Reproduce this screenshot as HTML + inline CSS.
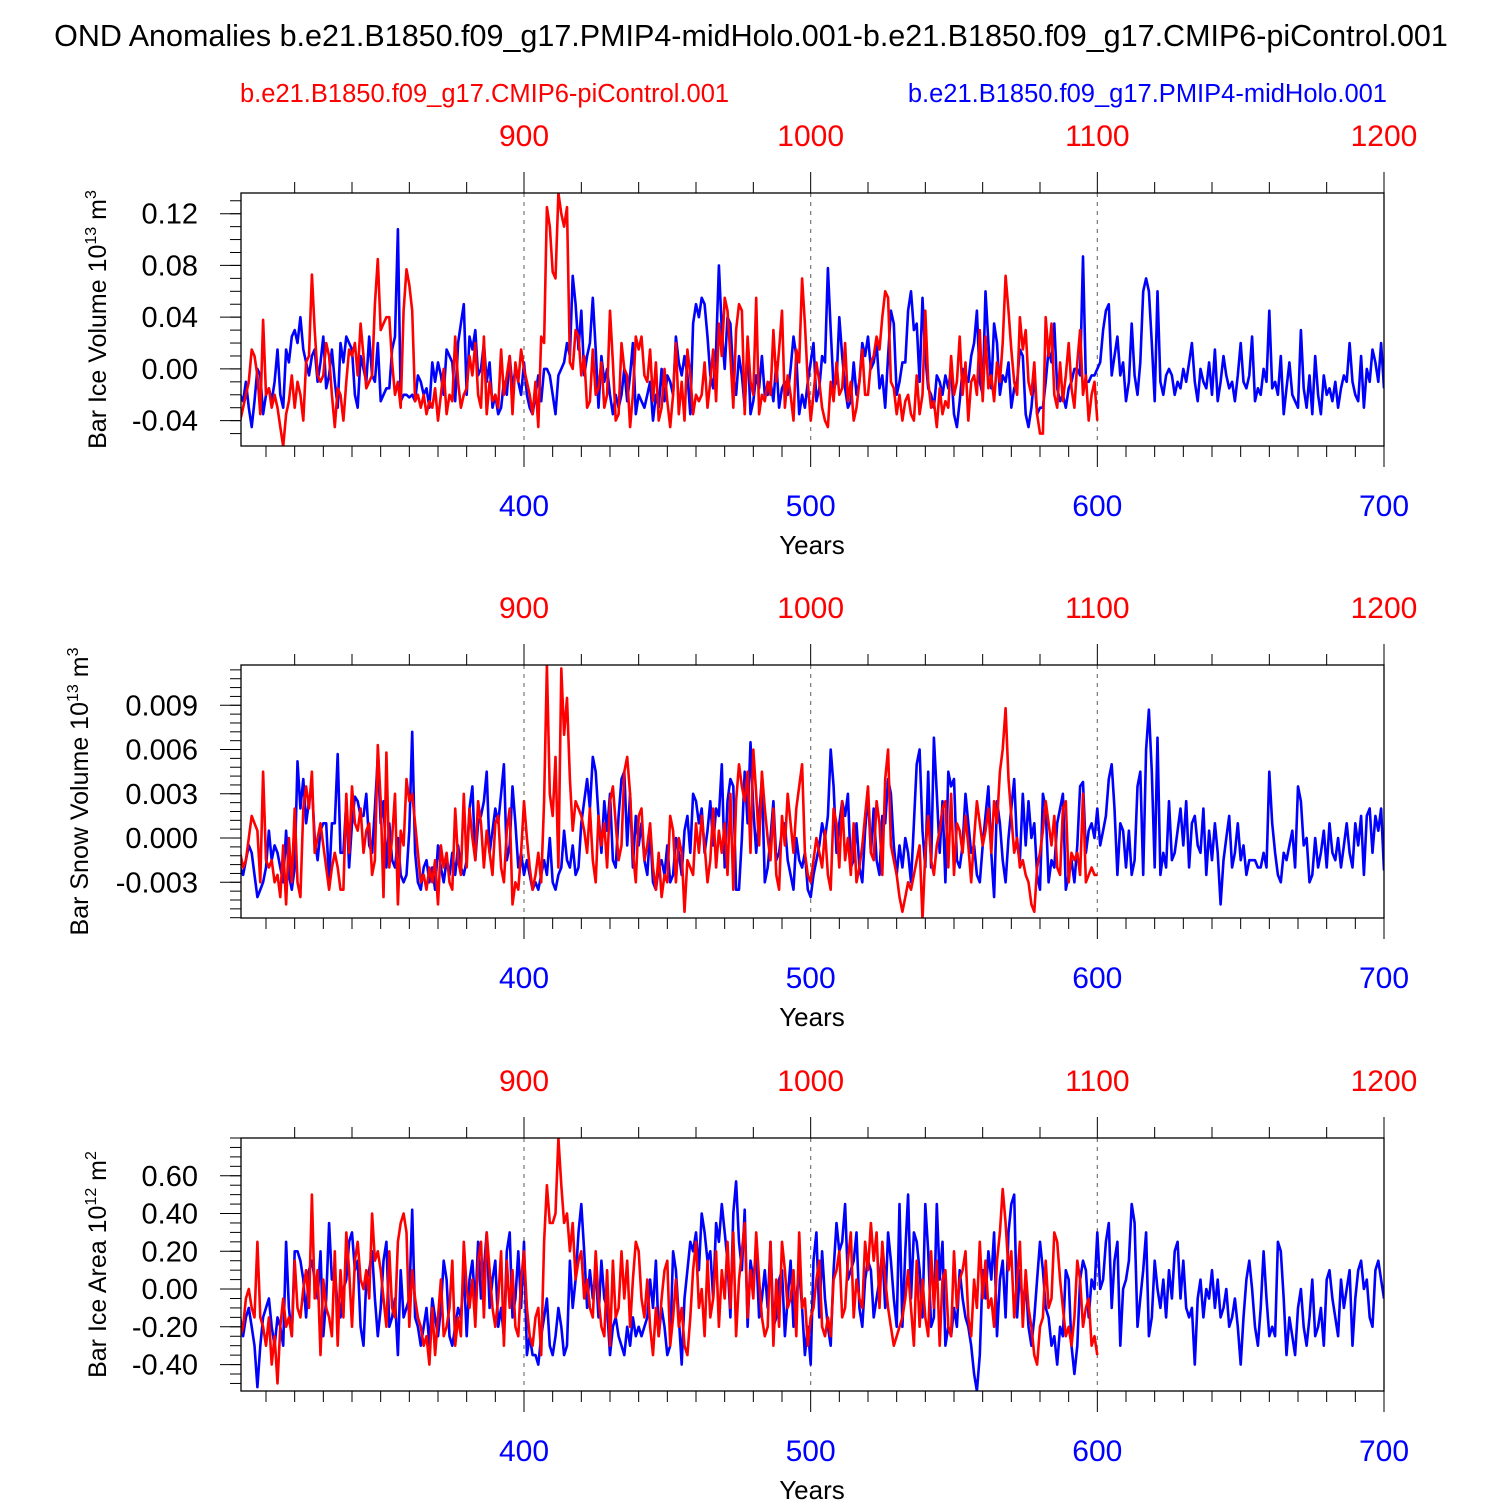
<!DOCTYPE html>
<html><head><meta charset="utf-8"><style>
body{margin:0;background:#fff;}
svg{display:block;font-family:"Liberation Sans",sans-serif;}
</style></head><body>
<svg id="chart" width="1500" height="1500" viewBox="0 0 1500 1500">
<text x="751" y="46" font-size="30.5" text-anchor="middle">OND Anomalies b.e21.B1850.f09_g17.PMIP4-midHolo.001-b.e21.B1850.f09_g17.CMIP6-piControl.001</text>
<text x="240" y="102" font-size="25.5" fill="#f00">b.e21.B1850.f09_g17.CMIP6-piControl.001</text>
<text x="1387" y="102" font-size="25.5" fill="#00f" text-anchor="end">b.e21.B1850.f09_g17.PMIP4-midHolo.001</text>
</svg>
<script>
// Panel 1: Bar Ice Volume (units 0.001 x 10^13 m^3)
const iceVolBlue=[-20,-25,-10,-30,-45,-25,0,-5,-35,-20,-15,-25,-10,15,-20,-30,15,5,25,30,
20,40,15,5,-5,10,15,-10,5,25,-15,-5,15,-10,-30,20,5,25,20,15,
-20,-30,10,0,-10,25,-5,-10,20,-25,-20,-15,-15,15,25,108,-25,-20,-20,-22,
-20,-25,-5,-10,-20,-15,-30,5,-10,5,-5,-20,15,10,5,-25,20,35,50,-20,
25,15,30,-5,0,20,-10,5,-30,-20,-35,-30,-10,-20,10,-15,0,-10,-20,5,
-20,-30,-35,-20,-5,-25,0,0,-5,-20,-35,-5,0,5,20,10,72,50,15,45,
-5,10,20,55,15,-30,10,-10,0,-20,-35,-20,-30,-20,0,-25,-5,20,-35,-20,
-25,-30,-20,-10,-40,-20,-30,0,-25,-5,-10,-20,25,5,-5,10,-5,-35,35,50,
40,55,50,25,-5,-15,15,80,30,0,40,35,-5,-20,10,-5,-30,20,-35,-25,
-5,-15,10,-20,-20,-10,-25,5,-30,-15,-10,-20,0,25,10,-35,-20,-30,-10,5,
20,-25,-15,10,5,78,30,-15,-10,40,10,-15,-30,-25,5,-20,-10,20,10,25,
0,5,20,-15,-5,-30,10,45,35,-20,-10,5,5,45,60,30,35,-10,55,10,
-15,-20,-30,-5,-10,-20,-5,-15,0,-35,-45,-25,0,-5,-10,10,20,45,-10,-20,
60,20,-15,35,20,-20,-5,-10,5,-30,-15,-10,15,10,-35,-45,-30,-5,-35,-30,
-30,-10,15,5,35,-15,-25,-20,-30,-15,-10,0,0,-5,87,-10,-10,-5,-5,0,
5,30,45,50,-5,10,25,-5,5,-25,-10,35,-5,-20,5,60,70,60,20,-25,
60,-10,-20,-5,0,-5,-20,-10,-15,0,-10,5,20,-10,-25,0,-10,-15,5,-20,
15,-25,-10,10,-5,-15,-10,-25,-5,20,-10,-15,-5,25,-25,-15,-20,0,-10,45,
-15,-10,-20,10,-35,-15,5,-20,-25,-30,30,-15,-30,-5,-35,10,-20,-35,-5,-20,
-15,-25,-10,-30,-15,-5,-10,20,-10,-20,-25,10,-30,0,-10,15,5,-10,20,-15];
const iceVolRed=[-40,-30,-20,-10,15,10,-5,-35,38,-20,-15,-30,-20,-30,-45,-60,-35,-25,-5,-30,
-10,-20,-40,5,10,73,30,-5,-10,-5,20,10,-20,-45,-15,-20,-40,-10,15,10,
20,-5,35,10,-15,-10,-5,50,85,30,35,40,40,5,-20,-10,-30,45,77,65,
45,-25,-20,-30,-20,-35,-25,-30,-15,-40,-20,0,-35,-20,-25,25,-10,-30,-20,-15,
10,-5,20,-20,-30,25,-35,-10,-25,-20,-30,15,-20,-5,10,-35,5,-10,15,0,
-10,-20,-35,-10,-45,25,20,125,110,75,70,136,120,110,125,5,0,30,25,-5,
10,-30,-25,15,-20,-15,5,-30,-20,45,5,-40,-35,20,0,-5,-45,-20,25,15,
25,-5,-10,15,-25,5,-40,-30,0,-25,-45,-20,20,-35,-10,-40,15,-5,-35,-20,
-25,-20,5,-30,-10,15,-25,35,10,55,45,10,-30,30,50,45,-35,25,-10,-20,
55,-35,-20,-25,-10,-20,30,-10,15,45,-30,-5,-20,-40,15,5,70,35,-10,-40,
-20,5,-10,-30,-40,-45,-10,-25,5,-20,-15,20,-25,-10,-40,-30,-10,15,-20,-20,
5,10,25,15,40,60,55,-10,-15,-35,-20,-40,-25,-20,-35,-40,-5,-35,-20,45,
-10,-30,-25,-45,-15,-35,-25,-30,10,-20,-10,25,-20,5,-40,-10,-5,-20,30,-25,
25,-15,-5,-25,5,-10,20,72,45,15,-10,-20,40,15,30,-10,-20,5,-35,-50,
-50,40,10,35,-20,-30,5,-25,-5,20,-15,-30,5,30,-20,-5,-40,-20,-10,-40];
// Panel 2: Bar Snow Volume (units 0.0001 x 10^13 m^3)
const snowBlue=[-20,-25,-15,-5,-10,-25,-40,-35,-30,-20,5,-15,-5,-10,-20,-30,5,-25,-35,-20,
52,20,40,10,25,35,0,-15,5,10,10,-30,10,10,57,-10,-10,25,-20,10,
28,25,15,15,30,-5,-10,20,55,10,25,-20,10,-15,-20,0,-25,-30,-25,5,
72,-10,-30,-35,-20,-15,-30,-20,-35,-5,-20,-30,-15,-25,-10,-25,-5,-20,-25,-15,
20,35,-15,10,15,25,45,-10,5,20,10,30,50,-15,-5,35,10,-20,-10,-25,
-15,-25,-35,-30,-35,-25,-15,-25,0,-30,-35,-25,-20,5,-15,-20,-5,-25,-20,10,
25,40,20,55,45,15,-10,25,5,30,-15,-20,15,40,45,-5,30,-20,15,-5,
10,-15,-25,5,-30,-35,-20,-15,-25,-5,-30,-25,0,-10,-25,5,15,-10,30,25,
10,20,-10,5,25,-5,20,15,50,-20,25,40,35,-35,-35,0,45,10,65,20,
-10,15,40,-30,-20,0,25,-15,-10,5,10,-15,-25,-35,0,-15,-20,-10,-35,-40,
-25,-15,-5,10,0,15,60,35,-10,10,25,15,30,-20,-15,10,-20,-30,5,30,
-10,20,-15,-25,15,10,40,30,-5,-25,-5,-20,0,-10,-30,10,50,60,5,-20,
45,-20,68,30,-10,25,-30,45,35,40,-15,-20,-5,30,10,-10,-5,-25,-30,-5,
15,35,-10,-40,25,10,-15,-30,0,20,40,-5,-15,30,-5,25,0,10,-25,-35,
30,20,-30,-15,-20,10,20,30,-35,-25,-15,-30,-5,35,38,-10,5,10,0,20,
-5,5,15,40,50,20,-25,10,5,-20,5,-25,-15,35,45,-25,60,87,45,-20,
68,-25,-10,-20,25,-15,-10,5,20,-5,25,-20,10,15,-5,-10,20,-25,5,-15,
10,-10,-45,-15,0,15,-20,-10,10,-15,-5,-25,-15,-15,-15,-20,-20,-10,-20,45,
10,-10,-25,-30,-10,-15,-5,5,-20,35,25,-5,0,-30,-25,0,-20,-10,5,-20,
10,-10,-15,0,-20,-5,10,-10,-20,10,-5,15,-25,15,20,-10,15,5,20,-22];
const snowRed=[-10,-20,-15,0,15,10,5,-30,45,-15,-20,-15,-30,-25,-40,-5,-45,0,-30,20,
-30,-40,20,35,20,45,-10,0,10,-5,-20,-35,-20,-10,-20,-35,-35,30,-10,35,
10,5,20,-10,5,10,-25,-15,63,25,-40,58,-20,0,30,-45,5,-5,40,25,
30,10,-10,-30,-25,-35,-20,-30,-15,-45,-5,-20,-10,-30,-35,20,-15,-25,30,-20,
20,0,-15,25,10,-20,5,-10,-25,10,15,-20,-30,5,20,-45,-30,-35,-10,25,
0,-20,-35,-25,-10,-30,25,117,30,15,55,-20,115,70,95,40,5,25,20,15,
5,-10,20,-15,-30,15,-5,10,-20,25,35,10,-15,-5,45,55,30,-10,-30,15,
20,-15,-5,10,-20,-35,-10,-40,-25,-30,15,5,-30,0,-10,-50,-15,-20,-25,10,
-10,15,-5,-30,-15,20,-20,5,-10,10,-25,30,-35,25,50,35,25,45,-10,60,
30,-5,45,20,0,-15,20,-25,-35,15,-5,30,10,-10,20,35,50,-10,-25,-30,
-15,0,-10,-20,5,-25,-35,20,10,-20,25,-15,0,-25,10,-30,-20,-5,15,35,
-10,-15,25,10,-25,40,60,-5,-15,-25,-40,-50,-40,-30,-35,-25,-15,-5,-55,-10,
15,-15,-25,-5,5,20,25,-20,30,-25,10,5,-10,15,-5,-30,0,25,10,-5,
5,20,-10,25,10,45,60,88,40,15,-10,0,-20,-15,-25,-30,-45,-50,-20,-10,
5,25,10,-5,15,-20,-25,20,25,-30,-10,-15,-10,-25,30,-30,-25,-20,-25,-25];
// Panel 3: Bar Ice Area (units 0.01 x 10^12 m^2)
const areaBlue=[-15,-25,-15,-10,-20,-30,-52,-30,-15,-10,-5,-20,-30,-15,-20,-30,25,-10,-25,20,
20,15,5,-15,10,15,5,-5,20,-25,-5,35,5,10,-10,-15,0,5,25,30,
10,15,-20,-30,5,10,20,-5,-25,-10,15,25,-20,-15,-5,-35,10,-15,-10,-5,
42,-15,-20,-30,-20,-10,-30,-5,-15,-25,-10,15,5,-25,-30,-20,-10,-15,10,-25,
5,15,-10,25,-5,10,30,-10,5,15,-20,-10,-25,20,30,-15,-5,20,-10,25,
-35,-25,-35,-35,-40,-25,-15,-5,-30,-35,-25,-10,-20,-35,-30,15,-10,5,30,45,
20,-10,10,-5,10,-15,15,-5,-10,-35,-20,-15,-25,-30,-35,-20,-30,-15,-25,-20,
-25,-20,-15,5,-10,15,-25,-10,-20,-35,-30,20,10,-15,-40,-5,10,25,20,30,
10,40,30,15,20,-5,35,25,45,30,15,-15,40,57,25,10,42,-20,15,5,
20,-15,-5,10,-10,25,-20,-15,5,10,-25,-5,15,-20,-5,10,-10,-35,-20,-40,
15,30,-15,20,-5,-20,-30,10,35,20,25,45,5,10,15,30,-10,-20,5,15,
10,-15,-5,5,20,-10,30,15,-5,-20,45,-20,20,50,-5,30,25,10,-15,45,
20,-20,-15,45,5,25,-30,-20,-25,-10,-20,10,-5,-15,-20,-30,-45,-54,-35,10,
-5,20,5,30,-25,5,15,-15,30,45,50,-15,10,-10,5,-20,-30,-15,5,25,
10,-10,-15,-30,-25,-40,-20,-25,10,5,-30,-45,-30,5,15,10,-15,5,0,30,
0,5,25,35,-10,15,25,-30,0,5,15,45,35,-20,-5,10,30,-25,-15,15,
0,-10,5,-15,10,-5,20,25,-5,15,-10,-15,-10,-40,-5,5,-15,0,-5,10,
-10,5,-15,-10,0,-20,-15,-5,-20,-40,-15,5,15,0,-20,-30,-10,20,-5,-25,
-20,-25,25,20,-5,-35,-15,-25,-35,-10,0,-20,-30,-15,5,-25,-20,-10,-30,5,
10,-5,-15,-25,5,-10,0,10,-30,-5,10,15,0,5,-15,-20,10,15,5,-5];
const areaRed=[-25,-20,-5,0,-10,-15,25,-15,-20,-30,-15,-40,-25,-50,-20,-5,-20,-15,-25,15,
-10,-15,0,10,-10,50,-5,10,-35,5,-10,-15,-25,20,-30,10,-15,30,10,-20,
15,25,5,0,10,-5,40,15,20,10,-5,-20,20,-10,-15,25,35,40,30,-20,
10,-5,-15,-20,-30,-25,-40,-10,-35,-15,5,-25,-20,-10,15,-30,-15,-25,25,0,
-10,5,-20,15,25,-15,30,10,-10,-20,-5,20,-30,15,-10,10,-20,-25,5,20,
-10,-25,-30,-15,-10,-35,25,55,35,35,40,80,55,35,40,20,35,5,15,20,
-5,5,-10,-15,20,-5,-20,-25,10,-30,15,-15,-10,20,-5,15,-20,5,25,20,
-5,-15,5,-20,-35,-10,-25,-5,10,15,-30,-15,5,-20,-10,-30,-35,-15,10,25,
-10,0,-25,15,-15,-5,20,-20,10,-5,25,-10,30,-25,5,20,35,-15,10,-5,
30,5,-15,-25,-20,25,-30,5,-20,25,10,-10,-5,10,-25,30,-10,-5,-30,-15,
-10,5,15,-20,-25,-15,-25,5,10,20,-15,-10,15,30,-15,5,-5,-10,25,10,
35,15,30,-10,25,5,-10,-20,-30,-25,-20,-15,-5,10,-10,-30,15,-20,5,-15,
-25,20,-10,15,-30,5,10,-20,-25,20,-10,5,10,20,-15,-25,5,-10,25,-5,
15,-10,-5,-20,15,30,53,35,10,20,-15,5,25,-20,10,-10,-20,-35,-40,-20,
-15,15,-10,-5,30,25,5,-10,-25,-20,-30,-15,15,5,-20,-10,-5,-30,-25,-35];

const blueStart=301, redStart=801, redOffset=500;
const bottomTicks=[400,500,600,700];
const topTicks=[900,1000,1100,1200];
const ticks1=[-0.04,0,0.04,0.08,0.12], labels1=["-0.04","0.00","0.04","0.08","0.12"];
const ticks2=[-0.003,0,0.003,0.006,0.009], labels2=["-0.003","0.000","0.003","0.006","0.009"];
const ticks3=[-0.4,-0.2,0,0.2,0.4,0.6], labels3=["-0.40","-0.20","0.00","0.20","0.40","0.60"];

const NS="http://www.w3.org/2000/svg";
const svg=document.getElementById('chart');
function mk(tag,attrs,parent){const e=document.createElementNS(NS,tag);for(const k in attrs)e.setAttribute(k,attrs[k]);(parent||svg).appendChild(e);return e;}
const L=241,R=1384;
function xs(yr){return 524+(yr-400)*(860/300);}

const panels=[
 {top:193,bot:446,min:-0.0596,max:0.136,ticks:ticks1,labels:labels1,minor:0.01,blue:iceVolBlue,red:iceVolRed,scale:0.001,name:'ice-volume',title:['Bar Ice Volume 10','13',' m','3'],tx:106},
 {top:665,bot:918,min:-0.00542,max:0.01173,ticks:ticks2,labels:labels2,minor:0.0006,blue:snowBlue,red:snowRed,scale:0.0001,name:'snow-volume',title:['Bar Snow Volume 10','13',' m','3'],tx:88},
 {top:1138,bot:1391,min:-0.54,max:0.8,ticks:ticks3,labels:labels3,minor:0.05,blue:areaBlue,red:areaRed,scale:0.01,name:'ice-area',title:['Bar Ice Area 10','12',' m','2'],tx:106}
];
panels.forEach((p,pi)=>{
 const g=mk('g',{});
 
 
 const ys=v=>p.bot-(v-p.min)/(p.max-p.min)*(p.bot-p.top);
 const cid='clip'+pi;
 const cp=mk('clipPath',{id:cid},g);mk('rect',{x:L,y:p.top,width:R-L,height:p.bot-p.top},cp);
 [400,500,600].forEach(yr=>{const l=mk('line',{x1:xs(yr),x2:xs(yr),y1:p.top,y2:p.bot,stroke:'#777','stroke-width':1.2,'stroke-dasharray':'4,5'},g);
  });
 for(let yr=310;yr<=700;yr+=10){const big=yr%100===0;const len=big?21:11;
  mk('line',{x1:xs(yr),x2:xs(yr),y1:p.bot,y2:p.bot+len,stroke:'#000','stroke-width':1},g);}
 for(let yr=320;yr<=700;yr+=20){const big=yr%100===0;const len=big?21:11;
  mk('line',{x1:xs(yr),x2:xs(yr),y1:p.top,y2:p.top-len,stroke:'#000','stroke-width':1},g);}
 for(let v=Math.ceil(p.min/p.minor-1e-6)*p.minor;v<=p.max+1e-9;v+=p.minor){mk('line',{x1:L,x2:L-11,y1:ys(v),y2:ys(v),stroke:'#000','stroke-width':1},g);}
 p.ticks.forEach((v,i)=>{mk('line',{x1:L,x2:L-21,y1:ys(v),y2:ys(v),stroke:'#000','stroke-width':1},g);
  const t=mk('text',{x:198,y:ys(v)+10,'font-size':29,'text-anchor':'end'},g);t.textContent=p.labels[i];
  });
 bottomTicks.forEach(yr=>{const t=mk('text',{x:xs(yr),y:p.bot+70,'font-size':30,'text-anchor':'middle',fill:'#00f'},g);t.textContent=yr;
  });
 topTicks.forEach(yr=>{const t=mk('text',{x:xs(yr-redOffset),y:p.top-47,'font-size':30,'text-anchor':'middle',fill:'#f00'},g);t.textContent=yr;
  });
 const xt=mk('text',{x:812,y:p.bot+108,'font-size':26,'text-anchor':'middle'},g);xt.textContent='Years';
 
 const cy=(p.top+p.bot)/2;
 const yt=mk('text',{x:p.tx,y:cy,'font-size':25,'text-anchor':'middle',transform:`rotate(-90 ${p.tx} ${cy})`},g);
 
 p.title.forEach((s,i)=>{const ts=mk('tspan',{},yt);ts.textContent=s;if(i%2===1){ts.setAttribute('dy','-10');ts.setAttribute('font-size','16');}else if(i>0){ts.setAttribute('dy','10');}});
 const lineOf=(arr,start,off,color,nm)=>{let d='';arr.forEach((v,i)=>{d+=(i?'L':'M')+xs(start+i-off).toFixed(1)+','+ys(v*p.scale).toFixed(1);});
  const pa=mk('path',{d:d,fill:'none',stroke:color,'stroke-width':2.6,'stroke-linejoin':'round','clip-path':`url(#${cid})`},g);
  };
 lineOf(p.blue,blueStart,0,'#00f',p.name+'-midholo-line');
 lineOf(p.red,redStart,redOffset,'#f00',p.name+'-picontrol-line');
 const fr=mk('rect',{x:L,y:p.top,width:R-L,height:p.bot-p.top,fill:'none',stroke:'#000','stroke-width':1.3},g);
 
});
</script>
</body></html>
